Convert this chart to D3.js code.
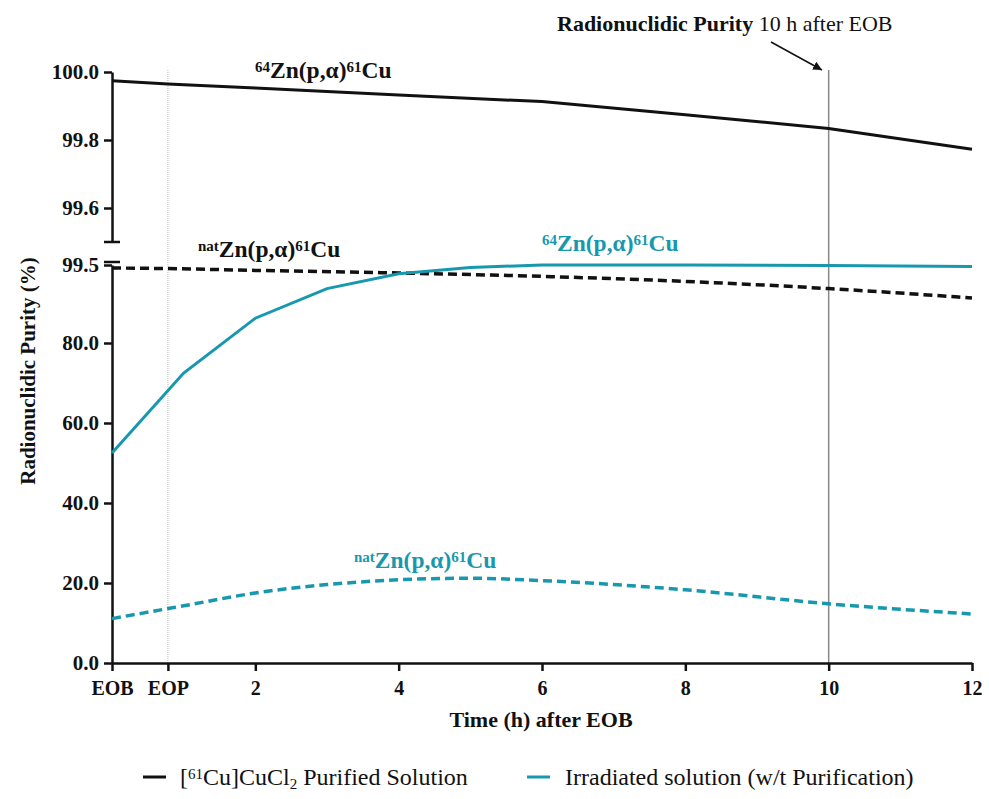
<!DOCTYPE html>
<html>
<head>
<meta charset="utf-8">
<script src="https://cdn.jsdelivr.net/npm/d3@7"></script>
<style>
  body { margin: 0; background: #fff; }
  svg { display: block; font-family: "Liberation Serif", serif; }
</style>
</head>
<body>
<svg id="chart" width="989" height="799"></svg>
<script>
  // values
  var purifiedTimes = [0, 0.78, 2, 4, 6, 8, 10, 12];
  var purified64Zn = [99.974, 99.965, 99.953, 99.932, 99.913, 99.874, 99.834, 99.773];
  var purifiedNatZn = [98.75, 98.6, 98.15, 97.5, 96.65, 95.4, 93.6, 91.25];

  var irradiatedTimes = [0, 1, 2, 3, 4, 5, 6, 8, 10, 12];
  var irradiated64Zn = [52.5, 72.5, 86.2, 93.6, 97.3, 98.9, 99.5, 99.5, 99.4, 99.15];
  var irradiatedNatZn = [11.1, 14.3, 17.5, 19.6, 20.8, 21.2, 20.6, 18.3, 14.8, 12.25];

  var xTickValues = [0, 0.78, 2, 4, 6, 8, 10, 12];
  var xTickLabels = ['EOB', 'EOP', '2', '4', '6', '8', '10', '12'];
  var yTopTicks = [99.6, 99.8, 100.0];
  var yBottomTicks = [0, 20, 40, 60, 80, 99.5];

  var BLACK = '#111';
  var CYAN = '#1898ae';

  var svg = d3.select('#chart');

  var x = d3.scaleLinear().domain([0, 12]).range([112, 972]);
  var yTop = d3.scaleLinear().domain([99.5, 100]).range([242, 72]);
  var yBot = d3.scaleLinear().domain([0, 99.5]).range([663, 265]);

  // reference lines (EOP and 10 h)
  svg.append('line')
    .attr('x1', x(0.78)).attr('x2', x(0.78))
    .attr('y1', 70).attr('y2', 663)
    .attr('stroke', '#bbb').attr('stroke-width', 1)
    .attr('stroke-dasharray', '1,1');
  svg.append('line')
    .attr('x1', x(10)).attr('x2', x(10))
    .attr('y1', 70).attr('y2', 663)
    .attr('stroke', '#888').attr('stroke-width', 1.5);

  function styleAxis(size) {
    return function(g) {
      g.select('.domain').attr('stroke', BLACK).attr('stroke-width', 2.5);
      g.selectAll('.tick line').attr('stroke', BLACK).attr('stroke-width', 2.5);
      g.selectAll('.tick text')
        .attr('fill', BLACK)
        .style('font-family', '"Liberation Serif", serif')
        .style('font-weight', 'bold')
        .style('font-size', size + 'px');
    };
  }

  var fmt = d3.format('.1f');

  svg.append('g')
    .attr('transform', 'translate(112,0)')
    .call(d3.axisLeft(yTop).tickValues(yTopTicks).tickFormat(fmt)
      .tickSize(8).tickSizeOuter(0).tickPadding(5))
    .call(styleAxis(21));

  svg.append('g')
    .attr('transform', 'translate(112,0)')
    .call(d3.axisLeft(yBot).tickValues(yBottomTicks).tickFormat(fmt)
      .tickSize(8).tickSizeOuter(0).tickPadding(5))
    .call(styleAxis(21));

  // break caps
  svg.append('line').attr('x1', 104).attr('x2', 120).attr('y1', yTop(99.5)).attr('y2', yTop(99.5))
    .attr('stroke', BLACK).attr('stroke-width', 2.5);
  svg.append('line').attr('x1', 104).attr('x2', 120).attr('y1', yBot(99.5) - 3).attr('y2', yBot(99.5) - 3)
    .attr('stroke', BLACK).attr('stroke-width', 2.5);

  svg.append('g')
    .attr('transform', 'translate(0,663)')
    .call(d3.axisBottom(x).tickValues(xTickValues)
      .tickFormat(function(d, i) { return xTickLabels[i]; })
      .tickSize(8).tickSizeOuter(0).tickPadding(10))
    .call(styleAxis(20));

  // series
  function zip(xs, ys) {
    return xs.map(function(t, i) { return [t, ys[i]]; });
  }

  var lineTop = d3.line().x(function(d) { return x(d[0]); }).y(function(d) { return yTop(d[1]); });
  var lineBot = d3.line().x(function(d) { return x(d[0]); }).y(function(d) { return yBot(d[1]); });
  var lineBotSmooth = d3.line().curve(d3.curveMonotoneX)
    .x(function(d) { return x(d[0]); }).y(function(d) { return yBot(d[1]); });

  svg.append('path').datum(zip(purifiedTimes, purified64Zn))
    .attr('d', lineTop).attr('fill', 'none')
    .attr('stroke', BLACK).attr('stroke-width', 3);

  svg.append('path').datum(zip(purifiedTimes, purifiedNatZn))
    .attr('d', lineBotSmooth).attr('fill', 'none')
    .attr('stroke', BLACK).attr('stroke-width', 3.5)
    .attr('stroke-dasharray', '9,5');

  svg.append('path').datum(zip(irradiatedTimes, irradiated64Zn))
    .attr('d', lineBot).attr('fill', 'none')
    .attr('stroke', CYAN).attr('stroke-width', 3);

  svg.append('path').datum(zip(irradiatedTimes, irradiatedNatZn))
    .attr('d', lineBotSmooth).attr('fill', 'none')
    .attr('stroke', CYAN).attr('stroke-width', 3.5)
    .attr('stroke-dasharray', '9,5');

  // rich text helper: parts = [[text, 'sup'|'sub'|null, bold?]]
  function richText(px, py, size, color, parts, anchor) {
    var t = svg.append('text')
      .attr('x', px).attr('y', py)
      .attr('fill', color)
      .attr('text-anchor', anchor || 'start')
      .style('font-size', size + 'px');
    parts.forEach(function(p) {
      var s = t.append('tspan').text(p[0]);
      if (p[2]) s.style('font-weight', 'bold');
      if (p[1] === 'sup') {
        s.attr('baseline-shift', '40%').style('font-size', Math.round(size * 0.64) + 'px');
      } else if (p[1] === 'sub') {
        s.attr('baseline-shift', '-25%').style('font-size', Math.round(size * 0.64) + 'px');
      }
    });
    return t;
  }

  function reaction(px, py, mass, color) {
    return richText(px, py, 23.5, color, [
      [mass, 'sup', true], ['Zn(p,α)', null, true], ['61', 'sup', true], ['Cu', null, true]
    ]);
  }

  reaction(255, 78, '64', BLACK);
  reaction(198, 257, 'nat', BLACK);
  reaction(542, 251, '64', CYAN);
  reaction(354, 568, 'nat', CYAN);

  // annotation
  richText(557, 31, 22, BLACK, [['Radionuclidic Purity', null, true], [' 10 h after EOB', null, false]]);
  svg.append('defs').append('marker')
    .attr('id', 'arrow').attr('viewBox', '0 0 10 10')
    .attr('refX', 10).attr('refY', 5)
    .attr('markerWidth', 6).attr('markerHeight', 6)
    .attr('markerUnits', 'strokeWidth')
    .attr('orient', 'auto')
    .append('path').attr('d', 'M0,0 L10,5 L0,10 z').attr('fill', BLACK);
  svg.append('line')
    .attr('x1', 771).attr('y1', 42).attr('x2', 822).attr('y2', 70)
    .attr('stroke', BLACK).attr('stroke-width', 1.5)
    .attr('marker-end', 'url(#arrow)');

  // axis titles
  svg.append('text')
    .attr('x', 541).attr('y', 727)
    .attr('text-anchor', 'middle')
    .style('font-weight', 'bold').style('font-size', '22px')
    .attr('fill', BLACK)
    .text('Time (h) after EOB');

  svg.append('text')
    .attr('transform', 'translate(35,371) rotate(-90)')
    .attr('text-anchor', 'middle')
    .style('font-weight', 'bold').style('font-size', '21px')
    .attr('fill', BLACK)
    .text('Radionuclidic Purity (%)');

  // legend
  svg.append('line').attr('x1', 143).attr('x2', 166).attr('y1', 777).attr('y2', 777)
    .attr('stroke', BLACK).attr('stroke-width', 3);
  richText(180, 785, 24, BLACK, [['[', null], ['61', 'sup'], ['Cu]CuCl', null], ['2', 'sub'], [' Purified Solution', null]]);
  svg.append('line').attr('x1', 527).attr('x2', 550).attr('y1', 777).attr('y2', 777)
    .attr('stroke', CYAN).attr('stroke-width', 3);
  richText(565, 785, 24, BLACK, [['Irradiated solution (w/t Purification)', null]]);
</script>
</body>
</html>
